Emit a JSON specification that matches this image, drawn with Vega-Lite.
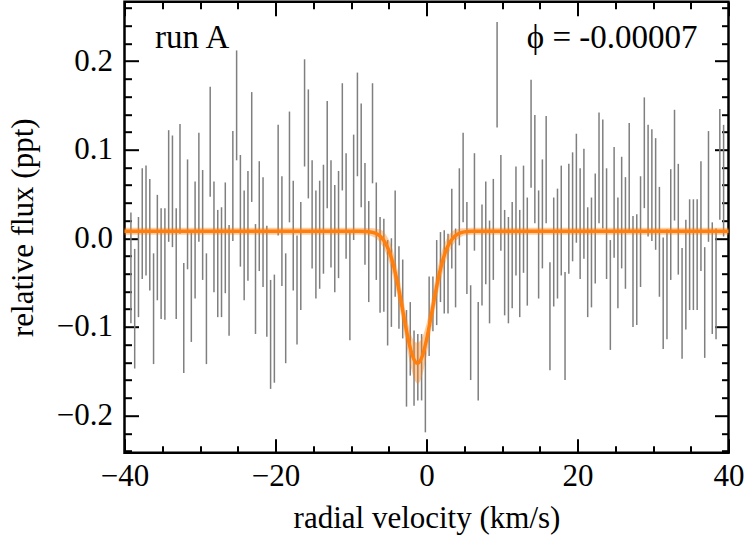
{
  "$schema": "https://vega.github.io/schema/vega-lite/v6.json",
  "width": 604,
  "height": 451,
  "autosize": "none",
  "padding": {"left": 124.5, "top": 1.7, "right": 19.5, "bottom": 87.3},
  "background": "white",
  "config": {
    "font": "Liberation Serif",
    "view": {"stroke": "black", "strokeWidth": 2.5},
    "axis": {
      "domain": false, "grid": false, "tickColor": "black", "tickWidth": 2,
      "labelFontSize": 31, "titleFontSize": 31, "labelColor": "black", "titleColor": "black",
      "titleFontWeight": "normal", "labelFlush": false, "labelOverlap": false, "labelFont": "Liberation Serif", "titleFont": "Liberation Serif"
    }
  },
  "datasets": {
    "bars": [
      {"v":-39.15,"lo":-0.096,"hi":0.029},{"v":-38.65,"lo":-0.147,"hi":-0.012},{"v":-38.15,"lo":-0.089,"hi":0.024},{"v":-37.65,"lo":-0.046,"hi":0.079},
      {"v":-37.15,"lo":-0.042,"hi":0.082},{"v":-36.65,"lo":-0.059,"hi":0.067},{"v":-36.15,"lo":-0.142,"hi":-0.017},{"v":-35.65,"lo":-0.070,"hi":0.049},
      {"v":-35.15,"lo":-0.091,"hi":0.034},{"v":-34.65,"lo":-0.092,"hi":0.034},{"v":-34.15,"lo":-0.004,"hi":0.122},{"v":-33.65,"lo":-0.010,"hi":0.116},
      {"v":-33.15,"lo":-0.091,"hi":0.034},{"v":-32.65,"lo":0.005,"hi":0.129},{"v":-32.15,"lo":-0.152,"hi":-0.028},{"v":-31.65,"lo":-0.035,"hi":0.089},
      {"v":-31.15,"lo":-0.117,"hi":0.008},{"v":-30.65,"lo":-0.068,"hi":0.064},{"v":-30.15,"lo":-0.004,"hi":0.119},{"v":-29.65,"lo":-0.047,"hi":0.077},
      {"v":-29.15,"lo":-0.142,"hi":-0.017},{"v":-28.65,"lo":0.047,"hi":0.171},{"v":-28.15,"lo":-0.061,"hi":0.064},{"v":-27.65,"lo":-0.089,"hi":0.032},
      {"v":-27.15,"lo":-0.089,"hi":0.035},{"v":-26.65,"lo":-0.062,"hi":0.063},{"v":-26.15,"lo":-0.110,"hi":0.015},{"v":-25.65,"lo":-0.003,"hi":0.121},
      {"v":-25.15,"lo":0.088,"hi":0.212},{"v":-24.65,"lo":-0.032,"hi":0.094},{"v":-24.15,"lo":-0.070,"hi":0.054},{"v":-23.65,"lo":-0.048,"hi":0.076},
      {"v":-23.15,"lo":0.041,"hi":0.165},{"v":-22.65,"lo":-0.108,"hi":0.016},{"v":-22.15,"lo":-0.037,"hi":0.087},{"v":-21.65,"lo":-0.055,"hi":0.069},
      {"v":-21.15,"lo":-0.111,"hi":0.014},{"v":-20.65,"lo":-0.170,"hi":-0.047},{"v":-20.15,"lo":-0.163,"hi":-0.041},{"v":-19.65,"lo":0.003,"hi":0.128},
      {"v":-19.15,"lo":-0.054,"hi":0.070},{"v":-18.65,"lo":-0.141,"hi":-0.017},{"v":-18.15,"lo":0.018,"hi":0.143},{"v":-17.65,"lo":-0.059,"hi":0.065},
      {"v":-17.15,"lo":-0.120,"hi":0.003},{"v":-16.65,"lo":-0.081,"hi":0.041},{"v":-16.15,"lo":0.081,"hi":0.202},{"v":-15.65,"lo":0.045,"hi":0.168},
      {"v":-15.15,"lo":-0.034,"hi":0.088},{"v":-14.65,"lo":-0.068,"hi":0.054},{"v":-14.15,"lo":-0.057,"hi":0.065},{"v":-13.65,"lo":-0.040,"hi":0.083},
      {"v":-13.15,"lo":0.034,"hi":0.155},{"v":-12.65,"lo":-0.033,"hi":0.088},{"v":-12.15,"lo":-0.061,"hi":0.060},{"v":-11.65,"lo":-0.045,"hi":0.076},
      {"v":-11.15,"lo":0.054,"hi":0.175},{"v":-10.65,"lo":-0.023,"hi":0.096},{"v":-10.15,"lo":-0.115,"hi":0.007},{"v":-9.65,"lo":-0.002,"hi":0.117},
      {"v":-9.15,"lo":0.070,"hi":0.187},{"v":-8.65,"lo":0.035,"hi":0.152},{"v":-8.15,"lo":-0.030,"hi":0.085},{"v":-7.65,"lo":-0.072,"hi":0.042},
      {"v":-7.15,"lo":0.062,"hi":0.175},{"v":-6.65,"lo":-0.047,"hi":0.063},{"v":-6.15,"lo":-0.084,"hi":0.024},{"v":-5.65,"lo":-0.083,"hi":0.022},
      {"v":-5.15,"lo":-0.121,"hi":-0.002},{"v":-4.65,"lo":-0.100,"hi":0.000},{"v":-4.15,"lo":-0.066,"hi":0.054},{"v":-3.65,"lo":-0.102,"hi":-0.009},
      {"v":-3.15,"lo":-0.113,"hi":-0.024},{"v":-2.65,"lo":-0.190,"hi":-0.081},{"v":-2.15,"lo":-0.155,"hi":-0.072},{"v":-1.65,"lo":-0.189,"hi":-0.104},
      {"v":-1.15,"lo":-0.183,"hi":-0.108},{"v":-0.65,"lo":-0.183,"hi":-0.108},{"v":-0.15,"lo":-0.219,"hi":-0.121},{"v":0.35,"lo":-0.133,"hi":-0.043},
      {"v":0.85,"lo":-0.105,"hi":-0.043},{"v":1.35,"lo":-0.098,"hi":-0.002},{"v":1.85,"lo":-0.072,"hi":0.007},{"v":2.35,"lo":-0.085,"hi":0.009},
      {"v":2.85,"lo":-0.085,"hi":0.005},{"v":3.35,"lo":-0.034,"hi":0.056},{"v":3.85,"lo":-0.078,"hi":0.011},{"v":4.35,"lo":-0.008,"hi":0.079},
      {"v":4.85,"lo":0.018,"hi":0.119},{"v":5.35,"lo":-0.063,"hi":0.041},{"v":5.85,"lo":-0.160,"hi":-0.053},{"v":6.35,"lo":-0.014,"hi":0.096},
      {"v":6.85,"lo":-0.183,"hi":-0.072},{"v":7.35,"lo":-0.076,"hi":0.038},{"v":7.85,"lo":-0.052,"hi":0.064},{"v":8.35,"lo":-0.096,"hi":0.020},
      {"v":8.85,"lo":-0.047,"hi":0.067},{"v":9.35,"lo":0.125,"hi":0.244},{"v":9.85,"lo":-0.014,"hi":0.094},{"v":10.35,"lo":-0.087,"hi":0.032},
      {"v":10.85,"lo":-0.096,"hi":0.024},{"v":11.35,"lo":-0.079,"hi":0.041},{"v":11.85,"lo":-0.042,"hi":0.081},{"v":12.35,"lo":-0.089,"hi":0.032},
      {"v":12.85,"lo":-0.039,"hi":0.082},{"v":13.35,"lo":-0.076,"hi":0.046},{"v":13.85,"lo":0.057,"hi":0.179},{"v":14.35,"lo":0.017,"hi":0.139},
      {"v":14.85,"lo":-0.068,"hi":0.054},{"v":15.35,"lo":-0.034,"hi":0.089},{"v":15.85,"lo":0.017,"hi":0.138},{"v":16.35,"lo":-0.149,"hi":-0.027},
      {"v":16.85,"lo":-0.077,"hi":0.046},{"v":17.35,"lo":-0.068,"hi":0.056},{"v":17.85,"lo":-0.042,"hi":0.082},{"v":18.35,"lo":-0.160,"hi":-0.038},
      {"v":18.85,"lo":-0.040,"hi":0.084},{"v":19.35,"lo":-0.026,"hi":0.097},{"v":19.85,"lo":-0.005,"hi":0.118},{"v":20.35,"lo":-0.046,"hi":0.079},
      {"v":20.85,"lo":-0.023,"hi":0.101},{"v":21.35,"lo":-0.089,"hi":0.035},{"v":21.85,"lo":-0.078,"hi":0.046},{"v":22.35,"lo":-0.051,"hi":0.073},
      {"v":22.85,"lo":0.017,"hi":0.142},{"v":23.35,"lo":0.011,"hi":0.134},{"v":23.85,"lo":-0.046,"hi":0.079},{"v":24.35,"lo":-0.126,"hi":-0.002},
      {"v":24.85,"lo":-0.022,"hi":0.103},{"v":25.35,"lo":-0.079,"hi":0.046},{"v":25.85,"lo":-0.034,"hi":0.092},{"v":26.35,"lo":-0.057,"hi":0.069},
      {"v":26.85,"lo":0.006,"hi":0.130},{"v":27.35,"lo":-0.100,"hi":0.025},{"v":27.85,"lo":-0.098,"hi":0.027},{"v":28.35,"lo":-0.055,"hi":0.070},
      {"v":28.85,"lo":0.034,"hi":0.159},{"v":29.35,"lo":0.002,"hi":0.128},{"v":29.85,"lo":-0.003,"hi":0.123},{"v":30.35,"lo":-0.013,"hi":0.113},
      {"v":30.85,"lo":-0.066,"hi":0.058},{"v":31.35,"lo":-0.125,"hi":0.001},{"v":31.85,"lo":-0.114,"hi":0.010},{"v":32.35,"lo":-0.047,"hi":0.078},
      {"v":32.85,"lo":0.020,"hi":0.145},{"v":33.35,"lo":-0.041,"hi":0.084},{"v":33.85,"lo":-0.136,"hi":-0.011},{"v":34.35,"lo":-0.103,"hi":0.021},
      {"v":34.85,"lo":-0.081,"hi":0.044},{"v":35.35,"lo":-0.081,"hi":0.044},{"v":35.85,"lo":-0.081,"hi":0.044},{"v":36.35,"lo":-0.037,"hi":0.087},
      {"v":36.85,"lo":-0.135,"hi":-0.010},{"v":37.35,"lo":-0.004,"hi":0.121},{"v":37.85,"lo":-0.108,"hi":0.018},{"v":38.35,"lo":-0.114,"hi":0.011},
      {"v":38.85,"lo":0.021,"hi":0.146},{"v":39.35,"lo":0.002,"hi":0.128}
    ],
    "model": [
      {"v":-40,"m":0.008,"lo":0.004,"hi":0.012},{"v":-9,"m":0.008,"lo":0.004,"hi":0.012},{"v":-8,"m":0.0077,"lo":0.0037,"hi":0.0117},
      {"v":-7,"m":0.0064,"lo":0.0014,"hi":0.0114},{"v":-6.5,"m":0.0046,"lo":-0.0014,"hi":0.0106},{"v":-6,"m":0.0012,"lo":-0.0068,"hi":0.0092},
      {"v":-5.5,"m":-0.0045,"lo":-0.0145,"hi":0.0055},{"v":-5,"m":-0.0135,"lo":-0.0255,"hi":-0.0015},{"v":-4.5,"m":-0.0265,"lo":-0.0405,"hi":-0.0125},
      {"v":-4,"m":-0.044,"lo":-0.059,"hi":-0.029},{"v":-3.5,"m":-0.0652,"lo":-0.0812,"hi":-0.0492},{"v":-3,"m":-0.0884,"lo":-0.1044,"hi":-0.0724},
      {"v":-2.5,"m":-0.1108,"lo":-0.1278,"hi":-0.0938},{"v":-2,"m":-0.1287,"lo":-0.1477,"hi":-0.1097},{"v":-1.5,"m":-0.1392,"lo":-0.1612,"hi":-0.1172},
      {"v":-1.2,"m":-0.141,"lo":-0.164,"hi":-0.118},{"v":-1,"m":-0.1402,"lo":-0.1632,"hi":-0.1172},{"v":-0.5,"m":-0.1315,"lo":-0.1525,"hi":-0.1105},
      {"v":0,"m":-0.1148,"lo":-0.1328,"hi":-0.0968},{"v":0.5,"m":-0.0931,"lo":-0.1091,"hi":-0.0771},{"v":1,"m":-0.0698,"lo":-0.0858,"hi":-0.0538},
      {"v":1.5,"m":-0.048,"lo":-0.063,"hi":-0.033},{"v":2,"m":-0.0297,"lo":-0.0437,"hi":-0.0157},{"v":2.5,"m":-0.0157,"lo":-0.0277,"hi":-0.0037},
      {"v":3,"m":-0.006,"lo":-0.016,"hi":0.004},{"v":3.5,"m":0.0003,"lo":-0.0077,"hi":0.0083},{"v":4,"m":0.004,"lo":-0.002,"hi":0.010},
      {"v":4.5,"m":0.0061,"lo":0.0011,"hi":0.0111},{"v":5,"m":0.0072,"lo":0.0032,"hi":0.0112},{"v":6,"m":0.0079,"lo":0.0039,"hi":0.0119},
      {"v":7,"m":0.008,"lo":0.004,"hi":0.012},{"v":40,"m":0.008,"lo":0.004,"hi":0.012}
    ],
    "notes": [
      {"v":-35.95,"y":0.2144,"label":"run A","side":"left"},
      {"v":35.9,"y":0.2144,"label":"ϕ = -0.00007","side":"right"}
    ]
  },
  "resolve": {"axis": {"x": "independent", "y": "independent"}},
  "layer": [
    {
      "data": {"name": "bars"},
      "mark": {"type": "rule", "color": "#7f7f7f", "strokeWidth": 1.5},
      "encoding": {
        "x": {"field": "v", "type": "quantitative",
          "scale": {"domain": [-40, 40], "nice": false, "zero": false},
          "axis": {"orient": "bottom", "title": "radial velocity (km/s)",
            "values": [-40,-35,-30,-25,-20,-15,-10,-5,0,5,10,15,20,25,30,35,40],
            "format": "d",
            "labelExpr": "abs(datum.value) % 20 === 0 ? datum.label : ''",
            "tickSize": {"condition": {"test": "abs(datum.value) % 20 === 0", "value": -14}, "value": -7},
            "labelPadding": 23, "titlePadding": 5}},
        "y": {"field": "lo", "type": "quantitative",
          "scale": {"domain": [-0.242, 0.267], "nice": false, "zero": false},
          "axis": {"orient": "left", "title": "relative flux (ppt)",
            "values": [-0.24,-0.22,-0.2,-0.18,-0.16,-0.14,-0.12,-0.1,-0.08,-0.06,-0.04,-0.02,0,0.02,0.04,0.06,0.08,0.1,0.12,0.14,0.16,0.18,0.2,0.22,0.24,0.26],
            "format": ".1f",
            "labelExpr": "abs(round(datum.value * 100)) % 10 === 0 ? datum.label : ''",
            "tickSize": {"condition": {"test": "abs(round(datum.value * 100)) % 10 === 0", "value": -14}, "value": -7},
            "labelPadding": 26, "titlePadding": 17}},
        "y2": {"field": "hi"}
      }
    },
    {
      "data": {"name": "model"},
      "mark": {"type": "area", "color": "#ff7f0e", "opacity": 0.4, "interpolate": "monotone"},
      "encoding": {
        "x": {"field": "v", "type": "quantitative",
          "axis": {"orient": "top", "title": null, "labels": false,
            "values": [-40,-35,-30,-25,-20,-15,-10,-5,0,5,10,15,20,25,30,35,40],
            "tickSize": {"condition": {"test": "abs(datum.value) % 20 === 0", "value": -14}, "value": -7}}},
        "y": {"field": "lo", "type": "quantitative",
          "axis": {"orient": "right", "title": null, "labels": false,
            "values": [-0.24,-0.22,-0.2,-0.18,-0.16,-0.14,-0.12,-0.1,-0.08,-0.06,-0.04,-0.02,0,0.02,0.04,0.06,0.08,0.1,0.12,0.14,0.16,0.18,0.2,0.22,0.24,0.26],
            "tickSize": {"condition": {"test": "abs(round(datum.value * 100)) % 10 === 0", "value": -14}, "value": -7}}},
        "y2": {"field": "hi"}
      }
    },
    {
      "data": {"name": "model"},
      "mark": {"type": "line", "color": "#ff7f0e", "strokeWidth": 3.5, "interpolate": "monotone"},
      "encoding": {
        "x": {"field": "v", "type": "quantitative", "axis": null},
        "y": {"field": "m", "type": "quantitative", "axis": null}
      }
    },
    {
      "data": {"name": "notes"},
      "transform": [{"filter": "datum.side === 'left'"}],
      "mark": {"type": "text", "align": "left", "baseline": "alphabetic", "fontSize": 33, "font": "Liberation Serif", "color": "black"},
      "encoding": {
        "x": {"field": "v", "type": "quantitative", "axis": null},
        "y": {"field": "y", "type": "quantitative", "axis": null},
        "text": {"field": "label"}
      }
    },
    {
      "data": {"name": "notes"},
      "transform": [{"filter": "datum.side === 'right'"}],
      "mark": {"type": "text", "align": "right", "baseline": "alphabetic", "fontSize": 33, "font": "Liberation Serif", "color": "black"},
      "encoding": {
        "x": {"field": "v", "type": "quantitative", "axis": null},
        "y": {"field": "y", "type": "quantitative", "axis": null},
        "text": {"field": "label"}
      }
    }
  ]
}
